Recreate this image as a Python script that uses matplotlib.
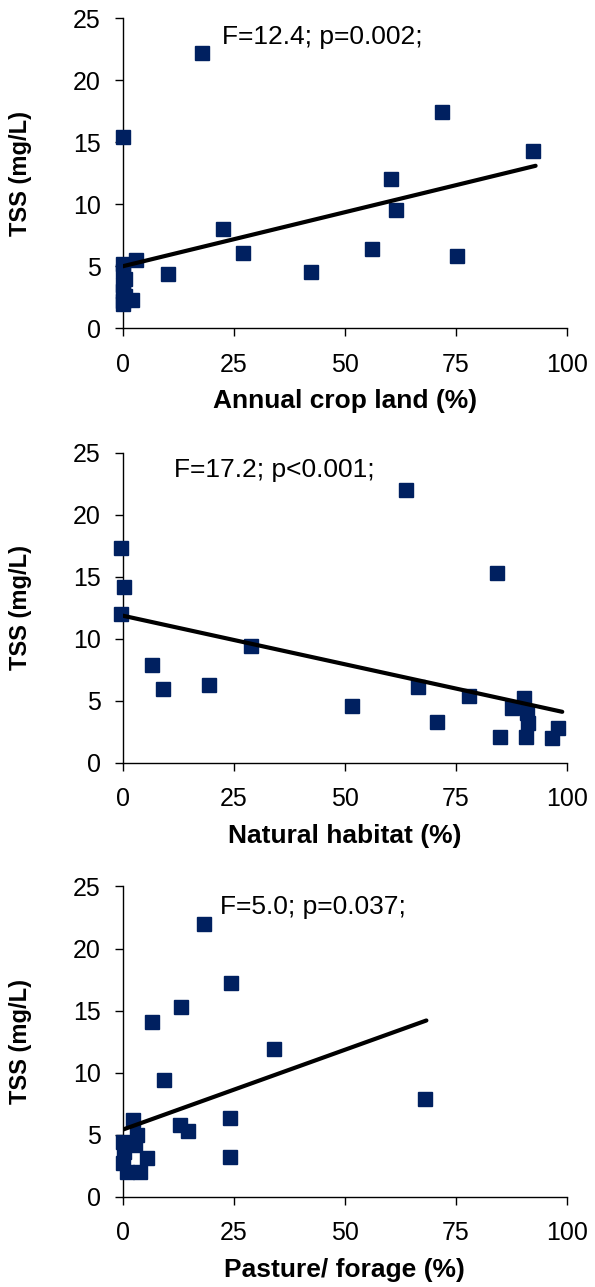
import matplotlib
matplotlib.use('Agg')
import matplotlib.pyplot as plt

plt.rcParams['font.family'] = ['Liberation Sans', 'DejaVu Sans']

# TSS vs land use
crop_x = [17.8, 0, 72, 92.5, 60.4, 61.5, 22.7, 27, 56.1, 75.2, 42.4, 10.1, 2.9,
          0, 0, 0.5, 0, 0, 0.5, 0, 0, 2.2]
crop_y = [22.2, 15.4, 17.4, 14.3, 12.0, 9.5, 8.0, 6.1, 6.4, 5.8, 4.5, 4.4, 5.5,
          5.2, 4.6, 4.0, 3.5, 3.0, 2.6, 2.2, 2.0, 2.3]
crop_fit_x = [0, 93]
crop_fit_y = [5.0, 13.1]

nat_x = [-0.4, 0.4, -0.4, 6.5, 9.0, 19.4, 28.8, 51.6, 63.7, 66.6, 70.9, 78.1,
         84.2, 85.0, 87.6, 90.4, 91.0, 91.4, 90.8, 96.8, 98.1]
nat_y = [17.3, 14.2, 12.0, 7.9, 5.9, 6.3, 9.4, 4.6, 22.0, 6.1, 3.3, 5.4,
         15.3, 2.1, 4.4, 5.2, 4.0, 3.2, 2.1, 2.0, 2.8]
nat_fit_x = [0, 99]
nat_fit_y = [11.85, 4.1]

past_x = [18.3, 24.4, 13.2, 6.7, 34.1, 9.2, 68.1, 24.1, 12.8, 14.6, 24.1,
          2.4, 3.2, 2.8, 0, 0.2, 5.4, 0, 1.0, 3.8]
past_y = [22.0, 17.2, 15.3, 14.1, 11.9, 9.4, 7.9, 6.3, 5.8, 5.3, 3.2,
          6.2, 5.0, 4.2, 4.4, 3.6, 3.1, 2.7, 2.0, 2.0]
past_fit_x = [0, 68.4]
past_fit_y = [5.4, 14.2]

panels = [
    (crop_x, crop_y, crop_fit_x, crop_fit_y, 'Annual crop land (%)', 'F=12.4; p=0.002;', 0.7449, (0.224, 0.94)),
    (nat_x, nat_y, nat_fit_x, nat_fit_y, 'Natural habitat (%)', 'F=17.2; p<0.001;', 0.4074, (0.1155, 0.942)),
    (past_x, past_y, past_fit_x, past_fit_y, 'Pasture/ forage (%)', 'F=5.0; p=0.037;', 0.0702, (0.22, 0.933)),
]

fig = plt.figure(figsize=(5.95, 12.87), dpi=100)

for x, y, fx, fy, xlabel, stat, bottom, txy in panels:
    ax = fig.add_axes([0.2062, bottom, 0.7462, 0.241])
    ax.plot(x, y, 's', color='#002060', markersize=10.5, clip_on=False, zorder=3)
    ax.plot(fx, fy, '-', color='black', linewidth=3, solid_capstyle='round', zorder=4)
    ax.set_xlim(0, 100)
    ax.set_ylim(0, 25)
    ax.set_xticks([0, 25, 50, 75, 100])
    ax.set_yticks([0, 5, 10, 15, 20, 25])
    ax.spines['top'].set_visible(False)
    ax.spines['right'].set_visible(False)
    for s in ('left', 'bottom'):
        ax.spines[s].set_color('black')
        ax.spines[s].set_linewidth(1.0)
    ax.tick_params(direction='out', length=5.5, width=1, labelsize=18)
    ax.tick_params(axis='x', pad=12)
    ax.tick_params(axis='y', pad=10.4)
    ax.set_xlabel(xlabel, fontsize=19, fontweight='bold')
    ax.set_ylabel('TSS (mg/L)', fontsize=17, fontweight='bold')
    ax.xaxis.set_label_coords(0.5, -0.197)
    ax.yaxis.set_label_coords(-0.204, 0.5)
    ax.text(txy[0], txy[1], stat, transform=ax.transAxes, fontsize=19, va='center', ha='left')

fig.savefig('out.png', dpi=100)
